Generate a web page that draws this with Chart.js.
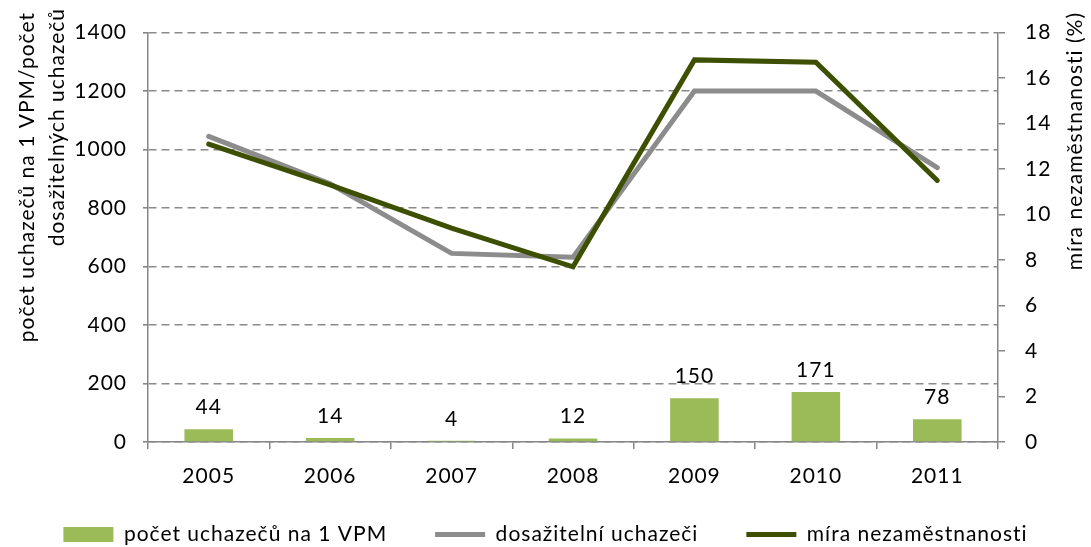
<!DOCTYPE html>
<html><head><meta charset="utf-8">
<script src="https://cdn.jsdelivr.net/npm/chart.js@4.4.0/dist/chart.umd.min.js"></script>
<style>html,body{margin:0;padding:0;background:#fff;}#wrap{width:1091px;height:547px;position:relative;}</style>
</head><body><div id="wrap"><canvas id="c"></canvas></div>
<script>
const years = ['2005','2006','2007','2008','2009','2010','2011'];
const uchazeciNaVPM = [44, 14, 4, 12, 150, 171, 78];
const dosazitelniUchazeci = [1045, 883, 645, 632, 1200, 1200, 938];
const miraNezamestnanosti = [13.1, 11.3, 9.4, 7.7, 16.8, 16.7, 11.5];
const seriesLabels = ['počet uchazečů na 1 VPM', 'dosažitelní uchazeči', 'míra nezaměstnanosti'];
const leftTitleLines = ['počet uchazečů na 1 VPM/počet', 'dosažitelných uchazečů'];
const rightTitle = 'míra nezaměstnanosti (%)';
const leftRange = {min: 0, max: 1400, step: 200};
const rightRange = {min: 0, max: 18, step: 2};

const FONT = 'Lato';
const FS = 21;
const AXIS = '#868686';
const LEGEND_PAD = 48;
Chart.defaults.font.family = FONT;
Chart.defaults.font.size = FS;
Chart.defaults.color = '#000';

const annot = {
  id: 'annot',
  beforeLayout(chart) { chart.ctx.letterSpacing = '1px'; },
  afterLayout(chart) { chart.scales.x._computeLabelArea = () => undefined; },
  beforeDraw(chart) { chart.ctx.letterSpacing = '1px'; },
  afterDatasetsDraw(chart) {
    const ctx = chart.ctx;
    const meta = chart.getDatasetMeta(0);
    ctx.save();
    ctx.font = FS + 'px ' + FONT;
    ctx.fillStyle = '#000';
    ctx.textAlign = 'center';
    ctx.textBaseline = 'middle';
    meta.data.forEach((el, i) => ctx.fillText(String(uchazeciNaVPM[i]), el.x, el.y - 22));
    ctx.restore();
  },
  afterDraw(chart) {
    const ctx = chart.ctx;
    ctx.save();
    ctx.font = FS + 'px ' + FONT;
    ctx.fillStyle = '#000';
    ctx.textAlign = 'right';
    ctx.textBaseline = 'middle';
    const draw = (t, x, y) => { ctx.save(); ctx.translate(x, y); ctx.rotate(-Math.PI / 2); ctx.fillText(t, 0, 0); ctx.restore(); };
    draw(leftTitleLines[0], 27, 12);
    draw(leftTitleLines[1], 57, 8);
    draw(rightTitle, 1075, 12);
    ctx.restore();
  }
};

new Chart(document.getElementById('c'), {
  data: {
    labels: years,
    datasets: [
      {type: 'bar', label: seriesLabels[0], data: uchazeciNaVPM, backgroundColor: '#9BBB59', yAxisID: 'y',
       barPercentage: 0.4, categoryPercentage: 1, order: 3},
      {type: 'line', label: seriesLabels[1], data: dosazitelniUchazeci, borderColor: '#8C8C8C', backgroundColor: '#8C8C8C',
       borderWidth: 5, pointRadius: 0, tension: 0, yAxisID: 'y', order: 2, borderCapStyle: 'round'},
      {type: 'line', label: seriesLabels[2], data: miraNezamestnanosti, borderColor: '#3D4F00', backgroundColor: '#3D4F00',
       borderWidth: 5, pointRadius: 0, tension: 0, yAxisID: 'y1', order: 1, borderCapStyle: 'round'}
    ]
  },
  options: {
    responsive: true,
    maintainAspectRatio: false,
    animation: false,
    layout: {padding: {top: 32, bottom: -8, left: 0, right: 0}},
    plugins: {
      tooltip: {enabled: false},
      legend: {
        position: 'bottom',
        labels: {
          usePointStyle: true, pointStyleWidth: 50, boxHeight: 15, padding: LEGEND_PAD,
          font: {size: FS}, color: '#000',
          generateLabels(chart) {
            const items = Chart.defaults.plugins.legend.labels.generateLabels(chart);
            items.forEach(it => {
              if (it.datasetIndex === 0) { it.pointStyle = 'rect'; it.lineWidth = 0; it.strokeStyle = '#9BBB59'; }
              else { it.pointStyle = 'line'; it.lineWidth = 5; }
            });
            return items.sort((a, b) => a.datasetIndex - b.datasetIndex);
          }
        }
      }
    },
    scales: {
      x: {
        offset: true,
        grid: {offset: true, drawOnChartArea: false, color: AXIS, tickLength: 7, lineWidth: 1.5},
        border: {color: AXIS, width: 1.5},
        ticks: {padding: 15, color: '#000'},
        afterFit(s) { s.height = 82 - LEGEND_PAD; }
      },
      y: {
        position: 'left', min: leftRange.min, max: leftRange.max,
        ticks: {stepSize: leftRange.step, padding: 16, color: '#000', callback: v => String(v)},
        grid: {color: '#8A8A8A', lineWidth: 1.6, tickLength: 5, tickColor: AXIS, tickBorderDash: []},
        border: {color: AXIS, width: 1.5, dash: [8, 5]},
        afterFit(s) { s.width = 148; }
      },
      y1: {
        position: 'right', min: rightRange.min, max: rightRange.max,
        ticks: {stepSize: rightRange.step, padding: 20, color: '#000', callback: v => String(v)},
        grid: {drawOnChartArea: false, color: AXIS, lineWidth: 1.5, tickLength: 7},
        border: {color: AXIS, width: 1.5},
        afterFit(s) { s.width = 93; }
      }
    }
  },
  plugins: [annot]
});
</script></body></html>
